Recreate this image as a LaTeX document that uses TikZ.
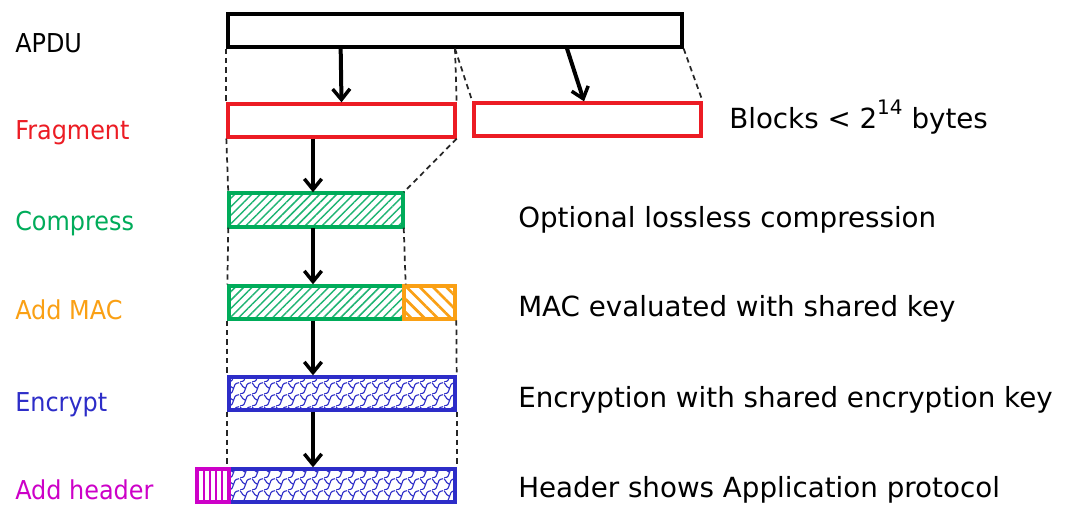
\documentclass[tikz,border=0pt]{standalone}
\usepackage{fontspec}
\setmainfont{DejaVu Sans}
\newfontfamily\lblfont[FakeStretch=0.92]{DejaVu Sans}
\usetikzlibrary{arrows.meta,patterns,patterns.meta,fit,calc}
\definecolor{cred}{RGB}{236,28,36}
\definecolor{cgreen}{RGB}{0,172,90}
\definecolor{chatch}{RGB}{30,180,115}
\definecolor{corange}{RGB}{250,160,20}
\definecolor{cblue}{RGB}{45,45,200}
\definecolor{cmag}{RGB}{205,0,200}
\pgfdeclarepatternformonly{wavy}{\pgfqpoint{0pt}{0pt}}{\pgfqpoint{9pt}{9pt}}{\pgfqpoint{9pt}{9pt}}{%
  \pgfsetlinewidth{0.9pt}%
  \pgfpathmoveto{\pgfqpoint{0pt}{0pt}}%
  \pgfpathcurveto{\pgfqpoint{7pt}{0.5pt}}{\pgfqpoint{2pt}{8.5pt}}{\pgfqpoint{9pt}{9pt}}%
  \pgfpathmoveto{\pgfqpoint{0pt}{9pt}}%
  \pgfpathcurveto{\pgfqpoint{2.2pt}{6.8pt}}{\pgfqpoint{2.2pt}{4.5pt}}{\pgfqpoint{4.5pt}{4.5pt}}%
  \pgfusepath{stroke}}
\tikzset{
  bx/.style={inner sep=0pt, line width=2.5pt, draw},
  dsh/.style={draw=black!85, line width=1.3pt, dash pattern=on 4pt off 3pt},
  arr/.style={line width=3pt, -{Straight Barb[length=8pt,width=13pt,line width=2.6pt]}},
  lbl/.style={anchor=base west, inner sep=0pt, font=\lblfont\fontsize{19.5}{22}\selectfont},
  txt/.style={anchor=base west, inner sep=0pt, font=\fontsize{20.8}{24}\selectfont},
}
\begin{document}
\begin{tikzpicture}[x=0.75pt,y=-0.75pt]
\useasboundingbox[fill=white] (0,0) rectangle (1068,514);
% boxes
\node[bx, fit={(228,14) (682,47)}] (apdu) {};
\node[bx, draw=cred, fit={(228,104) (455,137)}] (f1) {};
\node[bx, draw=cred, fit={(474,103) (701,136)}] (f2) {};
\node[bx, draw=cgreen, pattern={Lines[angle=45,distance=4.5pt,line width=1.1pt]}, pattern color=chatch, fit={(229,193) (403,227)}] (c) {};
\node[bx, draw=cgreen, pattern={Lines[angle=45,distance=4.5pt,line width=1.1pt]}, pattern color=chatch, fit={(229,286) (404,319)}] (mg) {};
\node[bx, draw=corange, pattern={Lines[angle=-45,distance=7pt,line width=2pt]}, pattern color=corange, fit={(404,286) (455,319)}] (mo) {};
\node[bx, draw=cblue, pattern=wavy, pattern color=cblue, fit={(229,377) (455,410)}] (e) {};
\node[bx, draw=cblue, pattern=wavy, pattern color=cblue, fit={(229,469) (455,502)}] (hb) {};
\node[bx, draw=cmag, pattern={Lines[angle=90,distance=4.5pt,line width=2pt]}, pattern color=cmag, fit={(197,469) (229,502)}] (hm) {};
% dashed guides
\draw[dsh] (apdu.south west) -- (f1.north west);
\draw[dsh] (apdu.south) -- (f1.north east);
\draw[dsh] (apdu.south) -- (f2.north west);
\draw[dsh] (apdu.south east) -- (f2.north east);
\draw[dsh] (f1.south west) -- (c.north west);
\draw[dsh] (f1.south east) -- (c.north east);
\draw[dsh] (c.south west) -- (mg.north west);
\draw[dsh] (c.south east) -- (mg.north east);
\draw[dsh] (mg.south west) -- (e.north west);
\draw[dsh] (mo.south east) -- (e.north east);
\draw[dsh] (e.south west) -- (hb.north west);
\draw[dsh] (e.south east) -- (hb.north east);
% arrows
\draw[arr] ($(apdu.south west)!0.25!(apdu.south east)$) -- (f1.north);
\draw[arr] ($(apdu.south west)!0.745!(apdu.south east)$) -- ($(f2.north west)!0.485!(f2.north east)$);
\draw[arr] (f1.south -| 313,0) -- (c.north -| 313,0);
\draw[arr] (c.south -| 313,0) -- (mg.north -| 313,0);
\draw[arr] (mg.south -| 313,0) -- (e.north -| 313,0);
\draw[arr] (e.south -| 313,0) -- (hb.north -| 313,0);
% left labels
\node[lbl] (l1) at (15,52) {APDU};
\node[lbl, text=cred] (l2) at (15,139) {Fragment};
\node[lbl, text=cgreen] (l3) at (15,230) {Compress};
\node[lbl, text=corange] (l4) at (15,319) {Add MAC};
\node[lbl, text=cblue] (l5) at (15,411) {Encrypt};
\node[lbl, text=cmag] (l6) at (15,499) {Add header};
% right texts
\node[txt] (r1) at (729,128) {Blocks < 2\raisebox{0.5em}{\fontsize{15}{15}\selectfont 14} bytes};
\node[txt] (r2) at (518,227) {Optional lossless compression};
\node[txt] (r3) at (518,316) {MAC evaluated with shared key};
\node[txt] (r4) at (518,407) {Encryption with shared encryption key};
\node[txt] (r5) at (518,497) {Header shows Application protocol};
\end{tikzpicture}
\end{document}
